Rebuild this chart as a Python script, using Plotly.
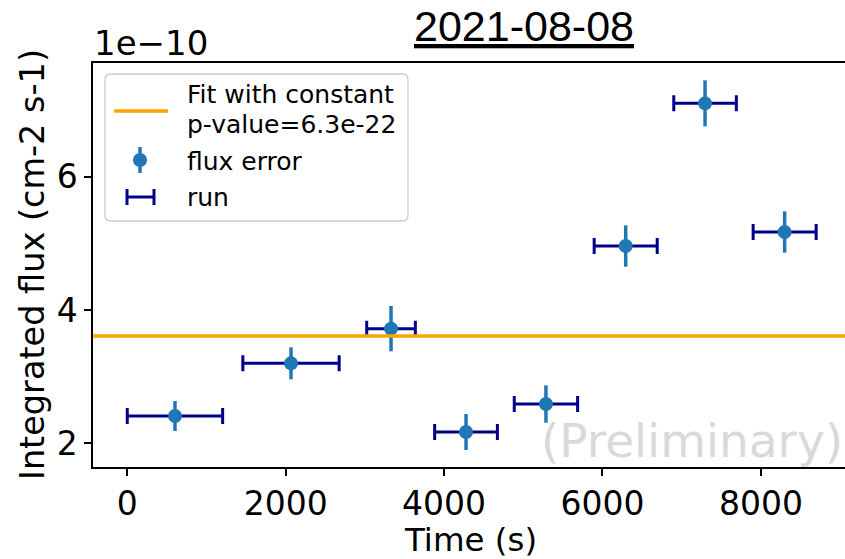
import plotly.graph_objects as go

# ---------------- data ----------------
time_s = [602, 2067, 3330, 4277, 5286, 6293, 7295, 8300]
run_halfwidth_s = [602, 608, 307, 396, 400, 398, 395, 398]
flux = [2.41e-10, 3.20e-10, 3.72e-10, 2.17e-10, 2.59e-10, 4.96e-10, 7.10e-10, 5.17e-10]
flux_err = [0.225e-10, 0.24e-10, 0.34e-10, 0.27e-10, 0.28e-10, 0.31e-10, 0.345e-10, 0.31e-10]
fit_constant = 3.61e-10
p_value_text = "6.3e-22"
x_tick_vals = [0, 2000, 4000, 6000, 8000]
y_tick_vals = [2e-10, 4e-10, 6e-10]
y_tick_text = ["2", "4", "6"]
title_text = "2021-08-08"

# ---------------- layout geometry ----------------
W, H = 845, 559
L, R, T, B = 93, 845, 63, 467
FONT = "DejaVu Sans"
BLUE = "#1f77b4"
NAVY = "#00008b"
ORANGE = "#ffa500"


def px(x):
    return (x - L) / (R - L)


def py(y):
    return (B - y) / (B - T)


fig = go.Figure()

# run (horizontal error bars)
fig.add_trace(go.Scatter(
    x=time_s, y=flux, mode="markers",
    marker=dict(size=2, opacity=0),
    error_x=dict(type="data", array=run_halfwidth_s, color=NAVY, thickness=3, width=8),
    showlegend=False, hoverinfo="skip"))

# flux error (points with vertical error bars)
fig.add_trace(go.Scatter(
    x=time_s, y=flux, mode="markers",
    marker=dict(size=14, color=BLUE),
    error_y=dict(type="data", array=flux_err, color=BLUE, thickness=3.5, width=0),
    showlegend=False))

shapes = []
# constant fit line
shapes.append(dict(type="line", xref="paper", x0=0, x1=1, yref="y", y0=fit_constant, y1=fit_constant,
                   line=dict(color=ORANGE, width=3.5), layer="above"))

# legend box with rounded corners
x0, x1, y0, y1, r = px(105), px(408), py(74), py(221), 6
rx, ry = r / (R - L), r / (B - T)
path = (f"M{x0+rx},{y0} L{x1-rx},{y0} Q{x1},{y0} {x1},{y0-ry} "
        f"L{x1},{y1+ry} Q{x1},{y1} {x1-rx},{y1} L{x0+rx},{y1} Q{x0},{y1} {x0},{y1+ry} "
        f"L{x0},{y0-ry} Q{x0},{y0} {x0+rx},{y0} Z")
shapes.append(dict(type="path", xref="paper", yref="paper", path=path,
                   line=dict(color="#cccccc", width=1.3), fillcolor="rgba(255,255,255,0.8)", layer="above"))
# legend handles
shapes.append(dict(type="line", xref="paper", yref="paper", x0=px(114), x1=px(168), y0=py(111), y1=py(111),
                   line=dict(color=ORANGE, width=3.5), layer="above"))
shapes.append(dict(type="line", xref="paper", yref="paper", x0=px(140), x1=px(140), y0=py(147), y1=py(173),
                   line=dict(color=BLUE, width=3.5), layer="above"))
shapes.append(dict(type="circle", xref="paper", yref="paper", x0=px(133), x1=px(147), y0=py(153), y1=py(167),
                   line=dict(color=BLUE, width=0), fillcolor=BLUE, layer="above"))
shapes.append(dict(type="line", xref="paper", yref="paper", x0=px(127), x1=px(154), y0=py(197), y1=py(197),
                   line=dict(color=NAVY, width=3), layer="above"))
for cx in (127, 154):
    shapes.append(dict(type="line", xref="paper", yref="paper", x0=px(cx), x1=px(cx), y0=py(189), y1=py(205),
                       line=dict(color=NAVY, width=3), layer="above"))

annotations = []


def ann(text, x, y, size, xanchor="left", yanchor="middle", color="black", family=FONT, angle=0):
    annotations.append(dict(text=text, x=px(x), y=py(y), xref="paper", yref="paper", showarrow=False,
                            xanchor=xanchor, yanchor=yanchor, textangle=angle,
                            font=dict(family=family, size=size, color=color)))


# legend labels
ann("Fit with constant", 185, 95, 25)
ann("p-value=" + p_value_text, 185, 124, 25)
ann("flux error", 185, 161, 25)
ann("run", 185, 198, 25)

# title, offset text, axis labels, watermark
ann("<u>" + title_text + "</u>", 524, 26, 43, xanchor="center", family="Liberation Sans")
ann("1e\u221210", 92, 43, 34)
ann("Time (s)", 470, 540, 32.5, xanchor="center")
ann("Integrated flux (cm-2 s-1)", 32, 265, 33.5, xanchor="center", angle=-90)
ann("(Preliminary)", 845, 440, 47, xanchor="right", color="#d9d9d9")

fig.update_layout(
    width=W, height=H,
    margin=dict(l=L, r=W - R, t=T, b=H - B, autoexpand=False),
    paper_bgcolor="white", plot_bgcolor="white",
    shapes=shapes, annotations=annotations,
    font=dict(family=FONT, size=33, color="black"),
    xaxis=dict(range=[-433, 9062], tickvals=x_tick_vals, ticks="outside", ticklen=7, tickwidth=1.5,
               tickcolor="black", showline=True, linecolor="black", linewidth=1.5, mirror=True,
               showgrid=False, zeroline=False, tickfont=dict(family=FONT, size=33, color="black")),
    yaxis=dict(range=[1.645e-10, 7.705e-10], tickvals=y_tick_vals, ticktext=y_tick_text, ticks="outside",
               ticklen=7, tickwidth=1.5, tickcolor="black", showline=True, linecolor="black", linewidth=1.5,
               mirror=False, showgrid=False, zeroline=False,
               tickfont=dict(family=FONT, size=33, color="black")),
    showlegend=False,
)

fig.write_html("out.html")
